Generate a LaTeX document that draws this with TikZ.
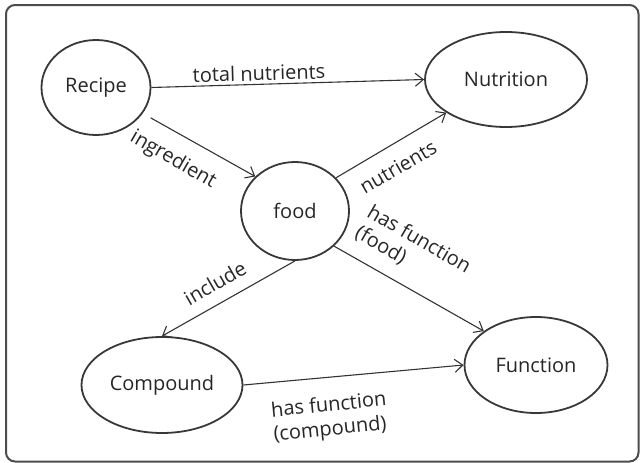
\documentclass[tikz,border=0pt]{standalone}
\usepackage{fontspec}
\setmainfont{Open Sans}
\usetikzlibrary{shapes.geometric, arrows.meta}
\begin{document}
\begin{tikzpicture}[x=1pt,y=-1pt,
  ent/.style={draw=black!78, line width=1.8pt, ellipse, inner sep=0pt, font=\fontsize{20}{24}\selectfont, text=black!85},
  arr/.style={draw=black!80, line width=1.1pt, -{Straight Barb[length=8pt,width=13pt,line width=1.1pt]}},
  lbl/.style={font=\fontsize{20}{24}\selectfont, text=black!85, inner sep=0pt, align=left}]
\useasboundingbox (0,0) rectangle (640,463);
\draw[black!70, line width=2pt, rounded corners=9pt] (6,5) rectangle (638.5,461.5);

\node[ent, minimum width=109pt, minimum height=95pt] (R) at (96,87.5) {Recipe};
\node[ent, minimum width=162pt, minimum height=95pt] (N) at (506,79.5) {Nutrition};
\node[ent, minimum width=108pt, minimum height=98pt] (F) at (295,211) {food};
\node[ent, minimum width=161pt, minimum height=96pt] (C) at (162,385) {Compound};
\node[ent, minimum width=143pt, minimum height=96pt] (Fn) at (536,365) {Function};

\draw[arr] (R.east) -- (N.west);
\draw[arr, shorten <=9pt] (R.-29) -- (F.139);
\draw[arr] (F.39) -- (N.209);
\draw[arr] (F.south) -- (C.north);
\draw[arr] (F.-42) -- (Fn.147);
\draw[arr] (C.east) -- (Fn.west);

\node[lbl, rotate=1.6] (l1) at (259,73) {total nutrients};
\node[lbl, rotate=-30] (l2) at (173,160) {ingredient};
\node[lbl, rotate=30] (l3) at (398,167) {nutrients};
\node[lbl, rotate=30] (l4) at (215,283) {include};
\node[lbl, rotate=-30] (l5) at (413,250) {has function\\(food)};
\node[lbl, rotate=5.7] (l6) at (330,418) {has function\\(compound)};
\end{tikzpicture}
\end{document}
